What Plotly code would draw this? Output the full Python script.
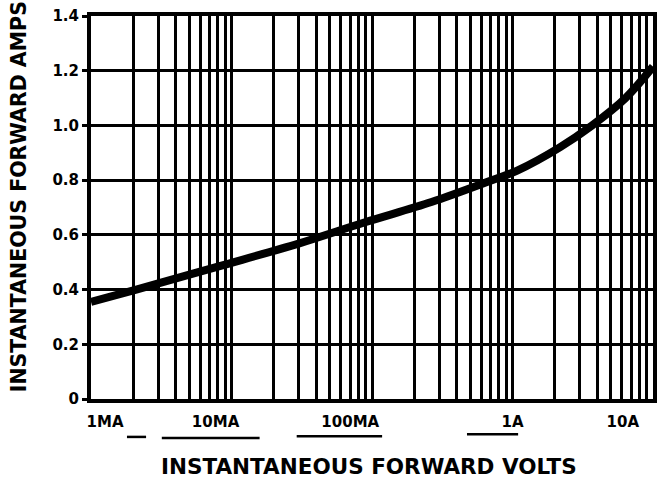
import numpy as np
import plotly.graph_objects as go

# Curve (x in amps on log scale, y value)
curve_x = [0.001, 0.0021, 0.0080, 0.030, 0.088, 0.265, 0.658, 1.08, 2.17, 3.68, 6.37, 10.0]
curve_y = [0.355, 0.40, 0.484, 0.568, 0.645, 0.72, 0.793, 0.835, 0.92, 1.0, 1.1, 1.215]

# x tick labels and where they sit on the axis
x_tick_labels = ["1MA", "10MA", "100MA", "1A", "10A"]
x_tick_vals = [0.00126, 0.0077, 0.070, 1.0, 6.1]

# y ticks
y_tick_vals = [0, 0.2, 0.4, 0.6, 0.8, 1.0, 1.2, 1.4]
y_tick_labels = ["0", "0.2", "0.4", "0.6", "0.8", "1.0", "1.2", "1.4"]

# log-paper grid lines: 1..9 of each decade
decades = [-3, -2, -1, 0]
grid_vals = [k * 10.0 ** d for d in decades for k in range(1, 10)] + [10.0]

FONT = "DejaVu Sans"

fig = go.Figure()
fig.add_trace(go.Scatter(
    x=curve_x, y=curve_y, mode="lines",
    line=dict(color="black", width=8, shape="spline", smoothing=1.0),
    hoverinfo="skip", showlegend=False,
))

fig.update_layout(
    width=658, height=482,
    margin=dict(l=91, r=5, t=16, b=83),
    paper_bgcolor="white", plot_bgcolor="white",
    showlegend=False,
    font=dict(family=FONT, color="black"),
)

fig.update_xaxes(
    type="log", range=[-3, 1], automargin=False,
    tickmode="array", tickvals=x_tick_vals, ticktext=x_tick_labels,
    ticks="", showgrid=False, zeroline=False,
    tickfont=dict(family=FONT, size=15, color="black", weight="bold"),
    ticklabelstandoff=6,
    showline=True, mirror=True, linecolor="black", linewidth=4,
    minor=dict(tickmode="array", tickvals=grid_vals, showgrid=True,
               gridcolor="black", gridwidth=3, ticks=""),
)
fig.update_yaxes(
    range=[0, 1.4], automargin=False,
    tickmode="array", tickvals=y_tick_vals, ticktext=y_tick_labels,
    showgrid=True, gridcolor="black", gridwidth=3, zeroline=False,
    ticks="outside", ticklen=5, tickwidth=3, tickcolor="black",
    tickfont=dict(family=FONT, size=15, color="black", weight="bold"),
    showline=True, mirror=True, linecolor="black", linewidth=4,
)

fig.add_annotation(
    text="INSTANTANEOUS FORWARD VOLTS", xref="paper", yref="paper",
    x=0.495, y=-0.175, xanchor="center", yanchor="middle", showarrow=False,
    font=dict(family=FONT, size=21.5, color="black", weight="bold"),
)
fig.add_annotation(
    text="INSTANTANEOUS FORWARD AMPS", xref="paper", yref="paper",
    x=-0.128, y=0.527, xanchor="center", yanchor="middle", showarrow=False,
    textangle=-90,
    font=dict(family=FONT, size=20.5, color="black", weight="bold"),
)

# small underline marks beneath the tick labels (as in the scan)
for x0, x1, yy in [(0.064, 0.098, -0.099), (0.126, 0.300, -0.102),
                   (0.366, 0.518, -0.097), (0.669, 0.760, -0.092)]:
    fig.add_shape(type="line", xref="paper", yref="paper",
                  x0=x0, x1=x1, y0=yy, y1=yy,
                  line=dict(color="black", width=2.5))

# remove the browser's default 8px body margin so the figure sits at the page corner
fig.write_html("out.html",
               config={"displayModeBar": False},
               post_script="document.body.style.margin='0px';document.body.style.overflow='hidden';")
